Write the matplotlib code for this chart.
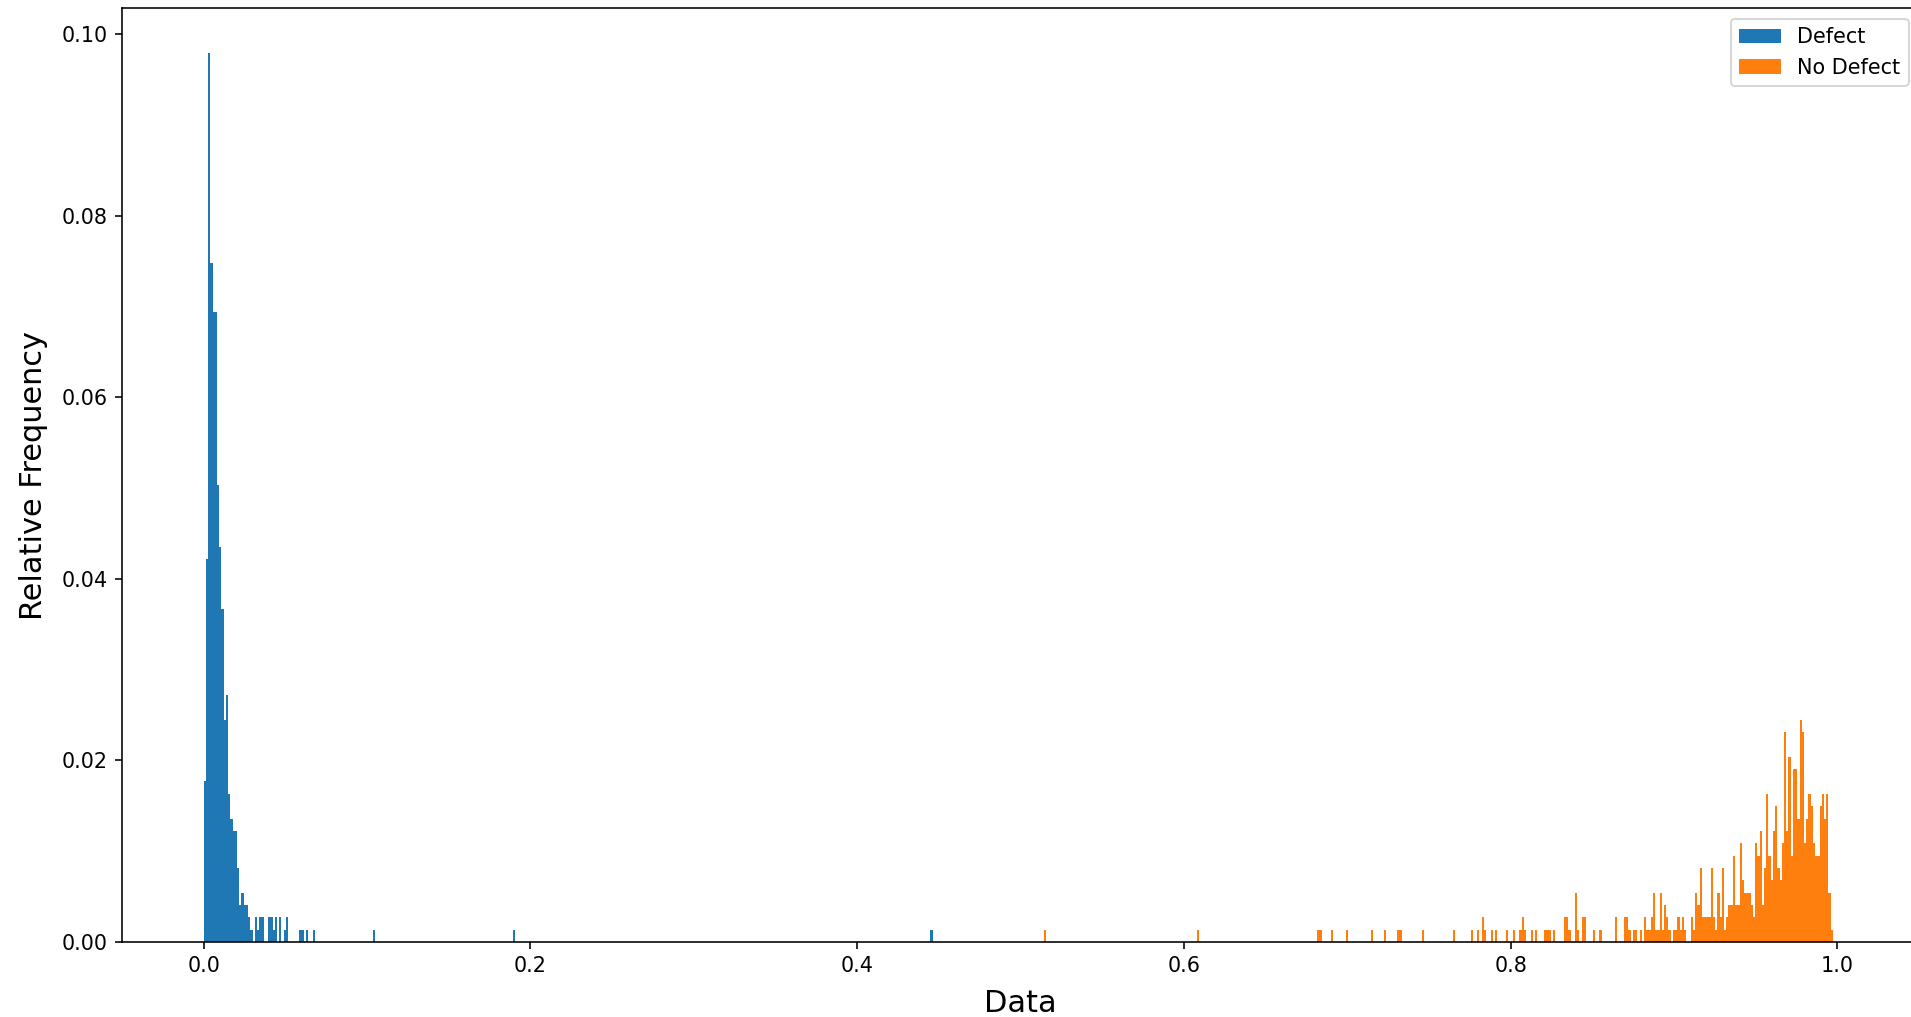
import matplotlib
matplotlib.use("Agg")
import matplotlib.pyplot as plt
import numpy as np

# Histogram of classifier output, 735 equal bins on [0, 1]
N_BINS = 735
N_SCALE = 735  # counts are divided by this to give relative frequency

# Defect: bin index -> count
defect_bins = list(range(0, 22)) + [23, 24, 25, 26, 29, 30, 31, 32, 34, 36, 37,
                                     43, 44, 46, 49, 76, 139, 327]
defect_counts = [13, 31, 72, 55, 51, 51, 37, 32, 27, 18, 20, 12, 10, 9, 9, 6,
                 3, 4, 3, 3, 2, 1,
                 2, 1, 2, 2, 2, 2, 1, 2, 2, 1, 2,
                 1, 1, 1, 1, 1, 1, 1]

# No Defect: bin index -> count
nodefect_bins = [378, 447, 501, 502, 507, 514, 525, 531, 537, 538, 548, 562,
                 570, 573, 575, 576, 579, 581, 586, 589, 592, 593, 594, 597,
                 599, 603, 604, 605, 607, 612, 613, 614, 617, 618, 620, 621,
                 625, 628, 635, 639, 640, 641, 643, 644, 646, 648, 649, 650,
                 651, 652, 653, 654, 655, 656, 657, 658, 659, 661, 662, 663,
                 664, 665, 666, 669, 670, 671, 672, 673, 674, 675, 676, 677,
                 678, 679] + list(range(680, 733))
nodefect_counts = [1, 1, 1, 1, 1, 1, 1, 1, 1, 1, 1, 1,
                   1, 1, 2, 1, 1, 1, 1, 1, 1, 2, 1, 1,
                   1, 1, 1, 1, 1, 2, 2, 1, 4, 1, 2, 2,
                   1, 1, 2, 2, 2, 1, 1, 1, 1, 2, 1, 1,
                   2, 4, 1, 1, 4, 1, 3, 2, 1, 1, 1, 2,
                   1, 2, 1, 2, 1, 4, 3, 6, 2, 2, 2, 2,
                   6, 2,
                   1, 4, 2, 6, 1, 2, 3, 3, 7, 3, 3, 8, 5, 4, 4, 4, 3, 2,
                   8, 7, 9, 3, 6, 12, 7, 5, 9, 11, 6, 5, 8, 17, 9, 15, 7,
                   14, 14, 10, 18, 17, 8, 10, 12, 11, 8, 7, 7, 11, 12, 10,
                   12, 4, 1]

labels = ["Defect", "No Defect"]


def plot_hist():
    edges = np.linspace(0, 1, N_BINS + 1)
    width = edges[1] - edges[0]

    plt.rcParams["font.size"] = 10.4
    fig = plt.figure(figsize=(1911 / 144, 1017 / 144), dpi=144)
    # axes placed by hand, right edge runs just past the image border
    ax = fig.add_axes([122 / 1911, 75 / 1017, 1797 / 1911, 933.5 / 1017])

    # bin centres as the sample values, counts turned into relative frequency
    ax.hist((np.array(defect_bins) + 0.5) * width, bins=edges,
            weights=np.array(defect_counts) / N_SCALE, color="C0", label=labels[0])
    ax.hist((np.array(nodefect_bins) + 0.5) * width, bins=edges,
            weights=np.array(nodefect_counts) / N_SCALE, color="C1", label=labels[1])

    ax.set_xlabel("Data", fontsize=15.2, labelpad=6.5)
    ax.set_ylabel("Relative Frequency", fontsize=15.2, labelpad=7)
    ax.legend(loc="upper right")

    fig.savefig("out.png", dpi=144)


plot_hist()
